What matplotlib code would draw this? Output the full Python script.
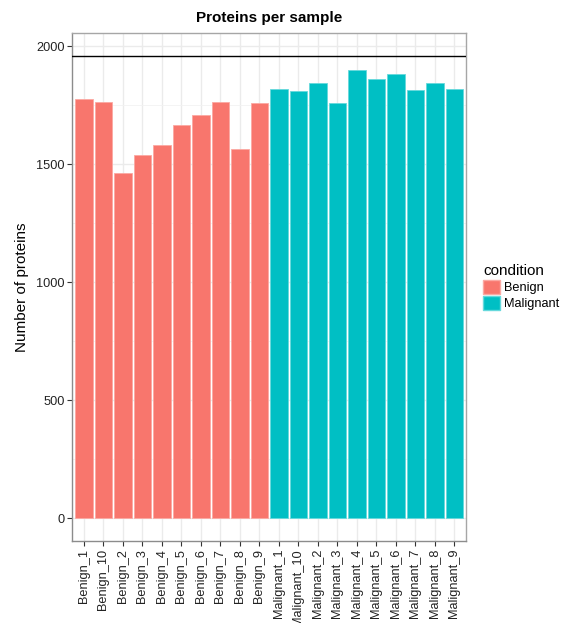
import matplotlib
matplotlib.use("Agg")
import matplotlib.pyplot as plt
from matplotlib.patches import Patch
from matplotlib.ticker import MultipleLocator

plt.rcParams["font.family"] = ["Liberation Sans", "DejaVu Sans"]

samples = ["Benign_1", "Benign_10", "Benign_2", "Benign_3", "Benign_4",
           "Benign_5", "Benign_6", "Benign_7", "Benign_8", "Benign_9",
           "Malignant_1", "Malignant_10", "Malignant_2", "Malignant_3",
           "Malignant_4", "Malignant_5", "Malignant_6", "Malignant_7",
           "Malignant_8", "Malignant_9"]
conditions = ["Benign"] * 10 + ["Malignant"] * 10
n_proteins = [1774, 1765, 1463, 1537, 1582, 1665, 1706, 1765, 1563, 1757,
              1816, 1808, 1843, 1757, 1898, 1861, 1880, 1812, 1843, 1816]
reference_line = 1956

palette = {"Benign": "#F8766D", "Malignant": "#00BFC4"}
edge = {"Benign": "#FBA9A3", "Malignant": "#66D9DC"}

fig = plt.figure(figsize=(5.66, 6.23), dpi=100)
ax = fig.add_axes([0.1277, 0.1311, 0.6956, 0.8154])

x = list(range(len(samples)))
ax.bar(x, n_proteins, width=0.9,
       color=[palette[c] for c in conditions],
       edgecolor=[edge[c] for c in conditions], linewidth=0.6, zorder=2)
ax.axhline(reference_line, color="black", linewidth=1.0, zorder=3)

ax.set_ylim(-reference_line * 0.05, reference_line * 1.05)
ax.set_xlim(-0.6, len(samples) - 0.4)

ax.yaxis.set_major_locator(MultipleLocator(500))
ax.yaxis.set_minor_locator(MultipleLocator(250))
ax.set_xticks(x)
ax.set_xticklabels(samples, rotation=90)

ax.grid(which="major", color="#EBEBEB", linewidth=1.0, zorder=0)
ax.grid(which="minor", axis="y", color="#F2F2F2", linewidth=0.6, zorder=0)
ax.set_axisbelow(True)

for s in ax.spines.values():
    s.set_color("#A6A6A6")
    s.set_linewidth(1.0)
ax.spines["left"].set_color("#8C8C8C")
ax.spines["bottom"].set_color("#8C8C8C")

ax.tick_params(axis="both", which="major", length=3.5, width=0.8,
               color="#333333", labelsize=9.2, labelcolor="#222222", pad=2)
ax.tick_params(axis="both", which="minor", length=0)

ax.set_ylabel("Number of proteins", fontsize=11, labelpad=5)
ax.set_title("Proteins per sample", fontsize=11, fontweight="bold", pad=8)

handles = [Patch(facecolor=palette[k], edgecolor=edge[k], label=k)
           for k in ["Benign", "Malignant"]]
leg = fig.legend(handles=handles, title="condition", loc="upper left",
                 bbox_to_anchor=(0.845, 0.585), frameon=False, fontsize=9.2,
                 title_fontsize=11, handlelength=1.3, handleheight=1.3,
                 handletextpad=0.35, labelspacing=0.15, borderaxespad=0)
leg._legend_box.align = "left"

fig.savefig("out.png", dpi=100)
